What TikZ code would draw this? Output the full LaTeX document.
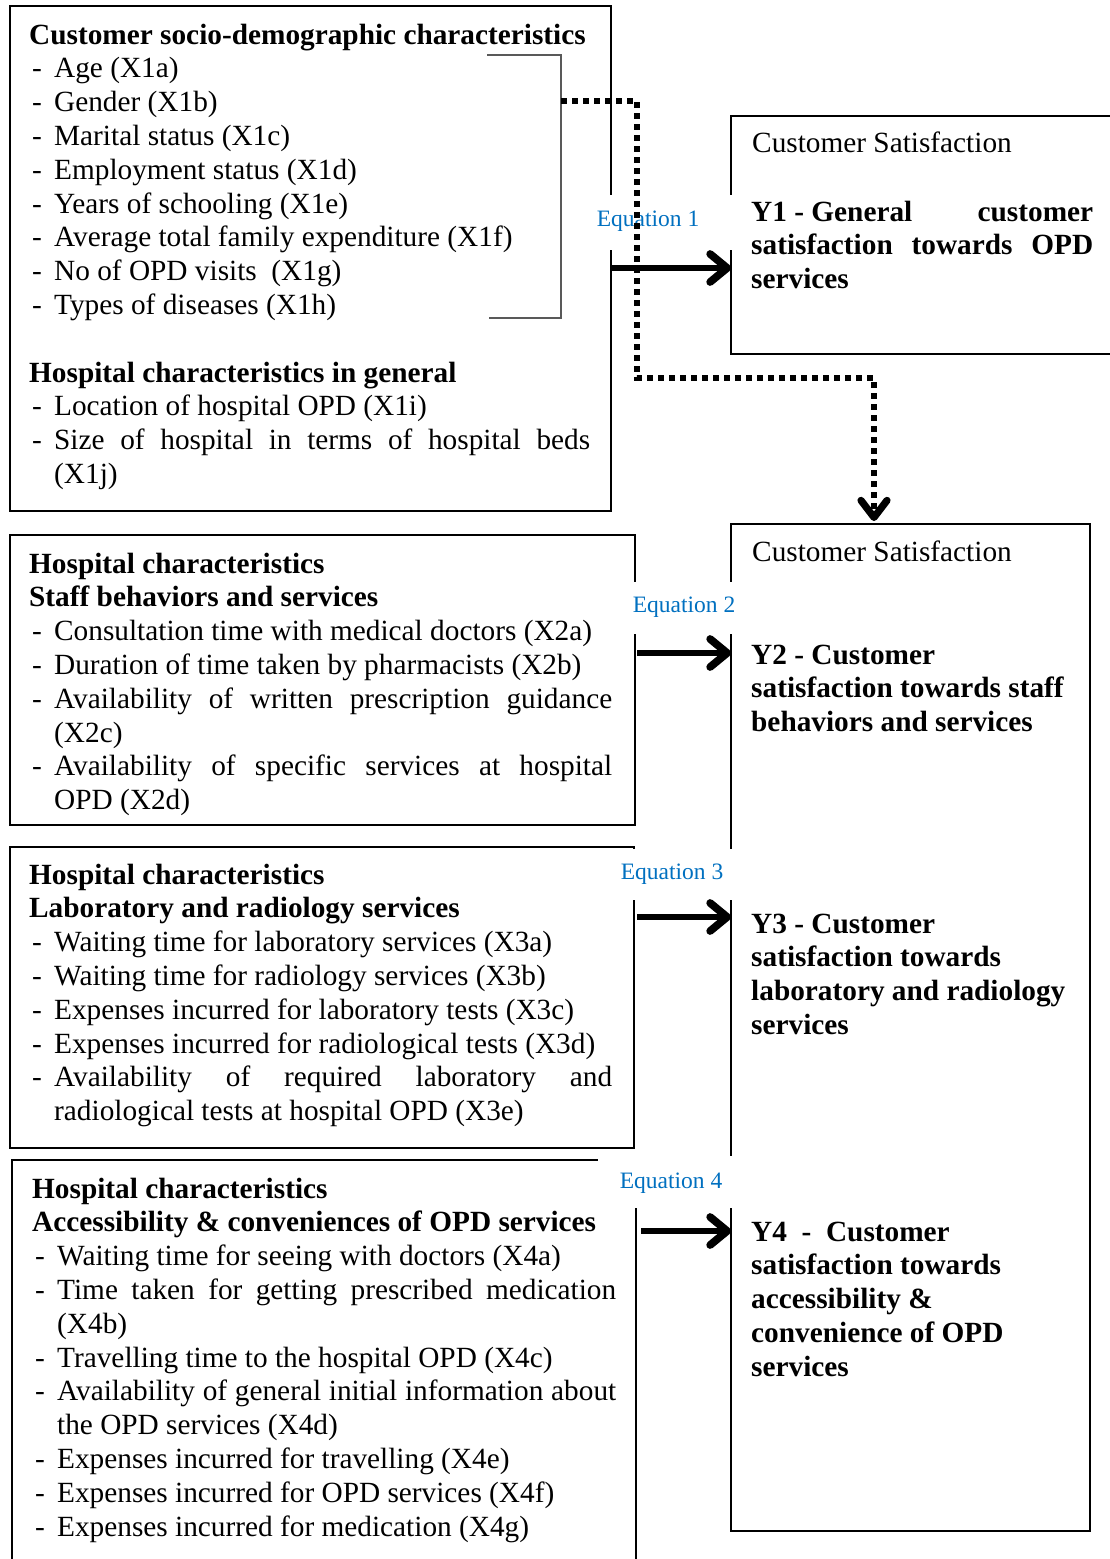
\documentclass[tikz,border=0pt]{standalone}
\usepackage{fontspec}
\setmainfont{Liberation Serif}
\usetikzlibrary{arrows.meta}
\definecolor{eqblue}{RGB}{0,112,192}
\newcommand{\bodyfont}{\fontsize{29.3}{33.8}\selectfont}
\newcommand{\eqfont}{\fontsize{23.5}{27}\selectfont}
\newcommand{\hd}[1]{\strut\textbf{#1}}
\newcommand{\itm}[1]{\strut\makebox[25pt][l]{\hspace{3pt}-}#1}
\newcommand{\jitm}[2]{\strut\makebox[25pt][l]{\hspace{3pt}-}\makebox[#1][s]{#2}}
\newcommand{\cnt}[1]{\strut\hspace*{25pt}#1}
\begin{document}
\begin{tikzpicture}[x=1pt,y=-1pt,
  box/.style={draw=black, line width=1.6pt, inner sep=0pt, outer sep=0pt, anchor=north west},
  txt/.style={anchor=north west, inner sep=0pt, align=left, font=\bodyfont},
  eq/.style={font=\eqfont, text=eqblue, inner sep=0pt},
  arr/.style={line width=5.5pt, -{Straight Barb[length=17pt,width=28pt,line width=0pt 1.4,round]}},
  dotline/.style={line width=6pt, dash pattern=on 6pt off 5pt, -{Straight Barb[length=17pt,width=26pt,line width=0pt 1.2,round]}},
  brk/.style={draw=black!65, line width=1.2pt}]
\useasboundingbox (0,0) rectangle (1110,1559);
\fill[white] (0,0) rectangle (1110,1559);

% boxes
\node[box, minimum width=601pt, minimum height=505pt] (b1) at (10,6) {};
\node[box, minimum width=625pt, minimum height=290pt] (b2) at (10,535) {};
\node[box, minimum width=624pt, minimum height=301pt] (b3) at (10,847) {};
\node[box, minimum width=624pt, minimum height=420pt] (b4) at (12,1160) {};
\node[box, minimum width=420pt, minimum height=238pt] (y1) at (731,116) {};
\node[box, minimum width=359pt, minimum height=1007pt] (y2) at (731,524) {};

% bracket
\coordinate (bk) at (561,101);
\draw[brk] (487,55) -- (561,55) -- (bk) -- (561,318) -- (489,318);

% left texts
\node[txt] (t1) at (29,20.3) {\hd{Customer socio-demographic characteristics}\\
\itm{Age (X1a)}\\
\itm{Gender (X1b)}\\
\itm{Marital status (X1c)}\\
\itm{Employment status (X1d)}\\
\itm{Years of schooling (X1e)}\\
\itm{Average total family expenditure (X1f)}\\
\itm{No of OPD visits\ \ (X1g)}\\
\itm{Types of diseases (X1h)}\\
\strut\\
\hd{Hospital characteristics in general}\\
\itm{Location of hospital OPD (X1i)}\\
\jitm{536pt}{Size of hospital in terms of hospital beds}\\
\cnt{(X1j)}};

\node[txt] (t2) at (29,549.3) {\hd{Hospital characteristics}\\
\hd{Staff behaviors and services}\\
\itm{Consultation time with medical doctors (X2a)}\\
\itm{Duration of time taken by pharmacists (X2b)}\\
\jitm{558pt}{Availability of written prescription guidance}\\
\cnt{(X2c)}\\
\jitm{558pt}{Availability of specific services at hospital}\\
\cnt{OPD (X2d)}};

\node[txt] (t3) at (29,860.3) {\hd{Hospital characteristics}\\
\hd{Laboratory and radiology services}\\
\itm{Waiting time for laboratory services (X3a)}\\
\itm{Waiting time for radiology services (X3b)}\\
\itm{Expenses incurred for laboratory tests (X3c)}\\
\itm{Expenses incurred for radiological tests (X3d)}\\
\jitm{558pt}{Availability of required laboratory and}\\
\cnt{radiological tests at hospital OPD (X3e)}};

\node[txt] (t4) at (32,1174.3) {\hd{Hospital characteristics}\\
\hd{Accessibility \& conveniences of OPD services}\\
\itm{Waiting time for seeing with doctors (X4a)}\\
\jitm{559pt}{Time taken for getting prescribed medication}\\
\cnt{(X4b)}\\
\itm{Travelling time to the hospital OPD (X4c)}\\
\jitm{559pt}{Availability of general initial information about}\\
\cnt{the OPD services (X4d)}\\
\itm{Expenses incurred for travelling (X4e)}\\
\itm{Expenses incurred for OPD services (X4f)}\\
\itm{Expenses incurred for medication (X4g)}};

% right texts
\node[txt] (cs1) at (752,128.3) {\strut Customer Satisfaction};
\node[txt, font=\bodyfont\bfseries] (y1t) at (751,197.3) {\strut\makebox[342pt][l]{Y1 - General\hfill customer}\\
\strut\makebox[342pt][s]{satisfaction towards OPD}\\
\strut services};
\node[txt] (cs2) at (752,537.3) {\strut Customer Satisfaction};
\node[txt, font=\bodyfont\bfseries] (y2t) at (751,640.3) {\strut Y2 - Customer\\
\strut satisfaction towards staff\\
\strut behaviors and services};
\node[txt, font=\bodyfont\bfseries] (y3t) at (751,909.3) {\strut Y3 - Customer\\
\strut satisfaction towards\\
\strut laboratory and radiology\\
\strut services};
\node[txt, font=\bodyfont\bfseries] (y4t) at (751,1217.3) {\strut Y4\ \ -\ \ Customer\\
\strut satisfaction towards\\
\strut accessibility \&\\
\strut convenience of OPD\\
\strut services};

% equation labels
\fill[white] (590,195) rectangle (736,250);
\node[eq] (e1) at (648,221) {Equation 1};
\fill[white] (622,582) rectangle (740,634);
\node[eq] (e2) at (684,607) {Equation 2};
\fill[white] (615,849) rectangle (740,900);
\node[eq] (e3) at (672,874) {Equation 3};
\fill[white] (598,1156) rectangle (740,1208);
\node[eq] (e4) at (671,1183) {Equation 4};

% arrows
\draw[arr] (b1.east |- 0,268) -- (y1.west |- 0,268);
\draw[arr] ([xshift=2pt]b2.east |- 0,653) -- (y2.west |- 0,653);
\draw[arr] ([xshift=3pt]b3.east |- 0,917) -- (y2.west |- 0,917);
\draw[arr] ([xshift=5pt]b4.east |- 0,1231) -- (y2.west |- 0,1231);

% dotted connector
\coordinate (dtip) at (874,521);
\draw[dotline] (bk) -- (637,101) -- (637,378) -- (874,378) -- (dtip);
\end{tikzpicture}
\end{document}
